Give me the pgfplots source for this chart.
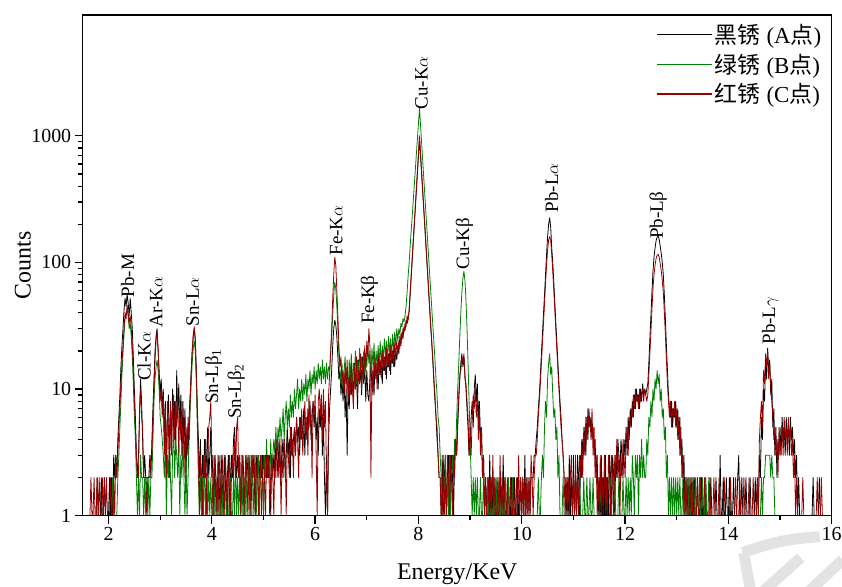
\documentclass[border=0pt]{standalone}
\usepackage{fontspec}
\setmainfont{Liberation Serif}
\newfontfamily\cjk{Noto Sans CJK SC}
\usepackage{pgfplots}
\usepackage{pgfplotstable}
\pgfplotsset{compat=1.18}

\definecolor{rustblack}{RGB}{0,0,0}
\definecolor{rustgreen}{RGB}{0,128,0}
\definecolor{rustred}{RGB}{150,0,0}

\tikzset{lbl/.style={rotate=90, anchor=west, inner sep=1bp, font=\fontsize{19}{22}\selectfont}}

% XRF spectra: energy (keV), counts at point A (black rust), B (green rust), C (red rust)
\pgfplotstableread{
E A B C
1.60 1 1 1
1.62 1 1 1
1.64 1 1 1
1.66 1 1 2
1.68 1 1 1
1.70 1 1 1
1.72 1 1 2
1.74 1 1 1
1.76 1 1 1
1.78 2 1 2
1.80 1 1 1
1.82 1 1 2
1.84 1 1 1
1.86 2 1 1
1.88 1 1 2
1.90 1 1 1
1.92 2 1 2
1.94 1 1 1
1.96 1 1 2
1.98 1 1 1
2.00 1 1 1
2.02 2 1 1
2.04 1 1 2
2.06 2 1 1
2.08 1 2 1
2.10 3 1 2
2.12 2 1 1
2.14 3 1 3
2.16 2 1 2
2.18 4 2 3
2.20 6 3 5
2.22 9 5 7
2.24 15 8 11
2.26 22 13 16
2.28 30 19 22
2.30 42 27 30
2.32 52 36 40
2.34 45 40 36
2.36 56 42 46
2.38 48 38 40
2.40 38 30 33
2.42 52 33 38
2.44 40 26 30
2.46 30 18 22
2.48 18 11 14
2.50 10 6 8
2.52 6 4 5
2.54 3 2 3
2.56 2 1 2
2.58 3 2 2
2.60 6 1 7
2.62 12 3 10
2.64 8 2 6
2.66 4 2 5
2.68 2 1 2
2.70 3 2 2
2.72 2 1 2
2.74 2 2 1
2.76 2 1 2
2.78 2 2 2
2.80 3 1 2
2.82 2 2 3
2.84 4 2 3
2.86 7 4 6
2.88 12 8 10
2.90 20 12 17
2.92 26 15 24
2.94 30 17 28
2.96 20 14 21
2.98 14 10 12
3.00 9 6 8
3.02 12 5 10
3.04 7 4 6
3.06 10 3 9
3.08 4 2 3
3.10 8 4 7
3.12 2 1 2
3.14 6 3 8
3.16 9 2 5
3.18 3 4 2
3.20 7 2 8
3.22 4 1 3
3.24 10 3 7
3.26 5 5 9
3.28 8 2 4
3.30 3 4 8
3.32 14 3 5
3.34 6 2 9
3.36 11 4 3
3.38 5 1 7
3.40 9 3 4
3.42 3 2 8
3.44 8 4 3
3.46 4 2 6
3.48 7 1 2
3.50 2 3 5
3.52 5 1 3
3.54 3 2 6
3.56 6 4 4
3.58 9 7 8
3.60 14 11 13
3.62 20 16 20
3.64 26 21 27
3.66 30 24 31
3.68 24 20 25
3.70 14 11 13
3.72 7 5 6
3.74 4 2 3
3.76 2 1 1
3.78 4 2 3
3.80 1 1 2
3.82 3 2 1
3.84 2 1 3
3.86 4 3 2
3.88 2 1 4
3.90 3 2 1
3.92 5 1 3
3.94 2 2 5
3.96 3 1 6
3.98 5 2 8
4.00 2 1 3
4.02 3 1 1
4.04 1 2 2
4.06 3 1 3
4.08 2 1 1
4.10 1 1 2
4.12 3 2 1
4.14 2 1 3
4.16 1 1 2
4.18 3 2 1
4.20 2 1 3
4.22 1 2 2
4.24 3 1 1
4.26 2 1 3
4.28 1 1 2
4.30 2 2 1
4.32 3 1 2
4.34 1 1 3
4.36 2 2 1
4.38 3 1 2
4.40 2 1 3
4.42 4 2 2
4.44 5 1 4
4.46 3 3 2
4.48 2 1 5
4.50 3 2 6
4.52 2 1 2
4.54 3 2 3
4.56 1 1 1
4.58 2 3 2
4.60 3 1 3
4.62 2 2 1
4.64 1 1 2
4.66 3 3 3
4.68 2 1 2
4.70 3 2 1
4.72 2 3 3
4.74 1 1 2
4.76 3 2 1
4.78 2 3 3
4.80 3 1 2
4.82 2 2 3
4.84 1 3 1
4.86 3 1 2
4.88 2 2 3
4.90 3 3 1
4.92 2 1 2
4.94 3 2 3
4.96 2 3 1
4.98 3 2 2
5.00 1 1 3
5.02 2 3 2
5.04 3 2 1
5.06 2 4 3
5.08 3 2 2
5.10 2 3 3
5.12 3 2 1
5.14 1 4 2
5.16 3 2 3
5.18 2 3 2
5.20 3 4 1
5.22 2 3 3
5.24 4 5 2
5.26 3 3 4
5.28 2 5 3
5.30 4 4 2
5.32 3 6 4
5.34 2 4 1
5.36 4 5 3
5.38 3 7 2
5.40 4 4 4
5.42 2 6 3
5.44 3 8 1
5.46 5 5 4
5.48 3 7 3
5.50 4 5 2
5.52 2 9 5
5.54 5 6 3
5.56 3 8 4
5.58 4 6 2
5.60 5 10 5
5.62 3 7 3
5.64 6 9 6
5.66 4 12 4
5.68 5 7 2
5.70 3 10 6
5.72 6 8 4
5.74 4 12 7
5.76 5 8 3
5.78 7 11 5
5.80 3 9 8
5.82 6 13 4
5.84 4 8 6
5.86 7 12 3
5.88 5 10 9
5.90 8 14 5
5.92 4 9 7
5.94 6 13 2
5.96 8 11 8
5.98 5 15 6
6.00 7 10 9
6.02 4 14 3
6.04 6 11 1
6.06 3 16 8
6.08 7 12 10
6.10 5 15 6
6.12 8 11 9
6.14 3 17 4
6.16 6 12 10
6.18 2 15 5
6.20 1 11 8
6.22 3 16 2
6.24 1 12 1
6.26 4 15 9
6.28 7 14 13
6.30 10 20 20
6.32 14 26 30
6.34 22 38 52
6.36 30 55 80
6.38 35 70 110
6.40 32 62 95
6.42 26 45 60
6.44 18 30 38
6.46 12 18 22
6.48 14 14 15
6.50 9 11 18
6.52 12 16 11
6.54 8 10 14
6.56 13 14 9
6.58 6 18 15
6.60 10 11 10
6.62 3 15 17
6.64 12 9 8
6.66 7 17 13
6.68 15 12 9
6.70 9 19 16
6.72 13 10 11
6.74 8 16 7
6.76 16 13 15
6.78 10 20 10
6.80 14 11 18
6.82 7 17 9
6.84 17 12 14
6.86 11 21 11
6.88 15 14 19
6.90 9 18 10
6.92 18 12 16
6.94 11 20 12
6.96 16 13 22
6.98 8 19 14
7.00 14 15 24
7.02 9 22 18
7.04 8 16 30
7.06 12 20 22
7.08 16 13 2
7.10 10 21 15
7.12 14 15 9
7.14 9 23 18
7.16 17 14 12
7.18 12 20 16
7.20 16 15 10
7.22 10 22 19
7.24 18 16 13
7.26 13 24 17
7.28 17 15 12
7.30 11 22 20
7.32 19 17 14
7.34 14 25 18
7.36 18 18 13
7.38 12 24 21
7.40 20 17 15
7.42 15 26 19
7.44 19 19 14
7.46 13 25 22
7.48 21 18 16
7.50 16 27 20
7.52 22 20 15
7.54 15 28 23
7.56 20 22 18
7.58 17 30 24
7.60 22 24 19
7.62 19 30 24
7.64 26 27 21
7.66 22 33 27
7.68 28 31 25
7.70 25 36 30
7.72 31 34 28
7.74 29 38 33
7.76 35 45 31
7.78 33 58 38
7.80 36 78 35
7.82 41 100 43
7.84 56 135 59
7.86 77 180 81
7.88 105 235 111
7.90 145 310 152
7.92 198 410 208
7.94 270 545 285
7.96 370 720 390
7.98 505 950 533
8.00 690 1250 730
8.02 950 1650 1000
8.04 690 1215 730
8.06 505 895 533
8.08 370 660 390
8.10 270 485 285
8.12 198 357 208
8.14 145 263 152
8.16 105 194 111
8.18 77 143 81
8.20 56 105 59
8.22 41 77 43
8.24 30 57 31
8.26 22 42 23
8.28 16 31 17
8.30 11 23 12
8.32 8 17 9
8.34 6 12 6
8.36 4 9 5
8.38 3 6 3
8.40 2 5 2
8.42 2 3 2
8.44 1 2 1
8.46 3 1 1
8.48 1 2 3
8.50 2 1 1
8.52 3 3 2
8.54 1 1 1
8.56 2 2 3
8.58 3 1 2
8.60 1 3 1
8.62 2 1 3
8.64 3 2 2
8.66 2 3 1
8.68 1 2 3
8.70 3 4 2
8.72 4 3 4
8.74 3 6 3
8.76 5 10 6
8.78 8 16 9
8.80 12 26 13
8.82 16 40 14
8.84 19 58 18
8.86 15 75 16
8.88 18 85 19
8.90 13 72 12
8.92 10 50 11
8.94 7 30 8
8.96 5 16 6
8.98 3 8 3
9.00 4 4 5
9.02 6 2 3
9.04 8 1 6
9.06 5 2 9
9.08 10 1 7
9.10 13 2 10
9.12 8 1 6
9.14 11 2 9
9.16 6 1 4
9.18 8 1 7
9.20 4 2 3
9.22 5 1 5
9.24 2 1 2
9.26 3 2 3
9.28 1 1 1
9.30 2 1 2
9.32 1 1 1
9.34 2 2 1
9.36 1 1 2
9.38 3 1 1
9.40 1 2 2
9.42 2 1 1
9.44 1 1 3
9.46 2 2 1
9.48 1 1 2
9.50 1 2 1
9.52 2 1 1
9.54 1 1 2
9.56 1 2 1
9.58 2 1 3
9.60 1 1 1
9.62 1 2 2
9.64 3 1 1
9.66 1 1 2
9.68 2 2 1
9.70 1 1 1
9.72 1 1 2
9.74 2 2 1
9.76 1 1 1
9.78 1 1 2
9.80 2 1 1
9.82 1 2 1
9.84 1 1 2
9.86 2 1 1
9.88 1 1 1
9.90 1 1 2
9.92 2 1 1
9.94 1 1 3
9.96 1 1 1
9.98 2 1 2
10.00 1 1 1
10.02 2 1 2
10.04 1 1 1
10.06 3 1 2
10.08 1 1 1
10.10 2 1 2
10.12 1 1 1
10.14 2 1 2
10.16 1 1 1
10.18 2 1 3
10.20 2 1 2
10.22 2 1 1
10.24 3 1 2
10.26 3 1 3
10.28 4 1 3
10.30 5 1 4
10.32 7 2 6
10.34 9 1 8
10.36 13 1 11
10.38 19 2 16
10.40 27 3 23
10.42 39 2 33
10.44 55 5 47
10.46 80 8 68
10.48 115 6 95
10.50 160 12 125
10.52 200 16 150
10.54 225 19 160
10.56 190 13 150
10.58 130 15 115
10.60 100 9 85
10.62 70 6 60
10.64 48 7 42
10.66 33 4 29
10.68 23 5 20
10.70 16 2 14
10.72 11 3 10
10.74 8 1 7
10.76 6 1 5
10.78 4 1 4
10.80 3 2 3
10.82 2 1 2
10.84 2 1 1
10.86 1 1 2
10.88 2 1 1
10.90 1 1 2
10.92 3 1 1
10.94 1 1 2
10.96 2 1 3
10.98 1 1 1
11.00 3 1 2
11.02 1 1 1
11.04 2 2 3
11.06 1 1 1
11.08 3 1 2
11.10 2 1 1
11.12 1 2 3
11.14 3 1 2
11.16 2 1 4
11.18 4 1 2
11.20 3 2 5
11.22 5 1 3
11.24 3 1 6
11.26 6 2 4
11.28 4 1 7
11.30 7 1 5
11.32 5 2 6
11.34 6 1 4
11.36 4 1 7
11.38 5 2 3
11.40 3 1 5
11.42 4 1 2
11.44 2 1 3
11.46 3 1 1
11.48 1 1 2
11.50 2 1 1
11.52 1 2 3
11.54 3 1 1
11.56 1 1 2
11.58 2 1 1
11.60 1 1 3
11.62 3 1 1
11.64 1 2 2
11.66 2 1 1
11.68 1 1 3
11.70 3 1 2
11.72 2 2 1
11.74 1 1 3
11.76 3 1 2
11.78 2 1 1
11.80 1 2 3
11.82 3 1 2
11.84 2 1 4
11.86 4 1 2
11.88 3 2 3
11.90 2 1 1
11.92 4 1 3
11.94 3 1 2
11.96 2 2 4
11.98 4 1 3
12.00 3 1 2
12.02 5 2 4
12.04 3 1 5
12.06 6 2 3
12.08 4 1 6
12.10 7 2 5
12.12 5 1 7
12.14 8 3 6
12.16 6 2 9
12.18 9 1 7
12.20 7 3 10
12.22 10 2 8
12.24 8 3 9
12.26 9 1 7
12.28 7 3 10
12.30 10 2 8
12.32 8 4 9
12.34 11 2 10
12.36 9 3 8
12.38 10 2 10
12.40 9 2 9
12.42 10 4 8
12.44 11 3 9
12.46 16 6 13
12.48 25 5 19
12.50 38 8 28
12.52 58 6 42
12.54 85 10 62
12.56 110 8 80
12.58 130 12 95
12.60 148 10 107
12.62 158 14 114
12.64 162 11 116
12.66 152 13 110
12.68 135 8 98
12.70 118 10 86
12.72 100 6 72
12.74 80 7 58
12.76 55 4 40
12.78 36 5 27
12.80 22 2 17
12.82 14 3 11
12.84 9 1 8
12.86 7 2 6
12.88 6 1 8
12.90 8 2 5
12.92 5 1 7
12.94 7 2 6
12.96 6 1 8
12.98 8 2 5
13.00 5 1 7
13.02 7 2 4
13.04 4 1 6
13.06 6 2 3
13.08 3 1 5
13.10 4 1 2
13.12 2 2 3
13.14 3 1 1
13.16 1 1 2
13.18 2 2 1
13.20 1 1 2
13.22 2 1 1
13.24 1 2 1
13.26 1 1 2
13.28 2 1 1
13.30 1 2 1
13.32 1 1 2
13.34 2 1 1
13.36 1 2 1
13.38 1 1 1
13.40 2 1 2
13.42 1 1 1
13.44 1 2 1
13.46 1 1 2
13.48 2 1 1
13.50 1 2 1
13.52 1 1 1
13.54 1 1 2
13.56 2 2 1
13.58 1 1 1
13.60 1 1 1
13.62 1 2 1
13.64 1 1 2
13.66 2 1 1
13.68 1 1 1
13.70 1 1 1
13.72 1 1 2
13.74 1 1 1
13.76 2 1 1
13.78 1 1 1
13.80 1 1 1
13.82 1 1 2
13.84 3 1 1
13.86 1 1 1
13.88 1 1 1
13.90 2 1 1
13.92 1 1 2
13.94 1 1 1
13.96 2 1 1
13.98 1 1 1
14.00 1 1 1
14.02 2 1 1
14.04 1 1 2
14.06 1 1 1
14.08 1 1 1
14.10 2 1 1
14.12 1 1 1
14.14 1 1 2
14.16 1 1 1
14.18 2 1 1
14.20 3 1 1
14.22 1 1 2
14.24 1 1 1
14.26 2 1 1
14.28 1 1 1
14.30 1 1 2
14.32 1 1 1
14.34 2 1 1
14.36 1 1 1
14.38 1 1 1
14.40 1 1 2
14.42 2 1 1
14.44 1 1 1
14.46 1 1 1
14.48 1 1 2
14.50 1 1 1
14.52 2 1 1
14.54 1 1 1
14.56 2 1 2
14.58 1 1 1
14.60 3 1 4
14.62 2 1 6
14.64 6 2 8
14.66 4 1 5
14.68 10 2 14
14.70 8 2 11
14.72 16 3 19
14.74 12 3 15
14.76 21 3 20
14.78 14 3 12
14.80 17 3 16
14.82 9 2 10
14.84 12 3 8
14.86 5 2 6
14.88 7 2 4
14.90 3 1 5
14.92 5 1 3
14.94 2 1 4
14.96 4 1 2
14.98 3 1 5
15.00 5 1 3
15.02 3 1 4
15.04 6 1 5
15.06 4 1 3
15.08 5 1 6
15.10 3 1 4
15.12 6 1 5
15.14 4 1 3
15.16 5 1 6
15.18 3 1 4
15.20 6 1 5
15.22 4 1 3
15.24 5 1 4
15.26 3 1 2
15.28 4 1 3
15.30 2 1 1
15.32 3 1 2
15.34 1 1 1
15.36 2 1 1
15.38 1 1 1
15.40 1 1 1
15.42 1 1 1
15.44 1 1 2
15.46 1 1 1
15.48 1 1 1
15.50 1 1 1
15.52 1 1 1
15.54 1 1 1
15.56 1 1 1
15.58 1 1 1
15.60 1 1 1
15.62 1 1 1
15.64 2 1 1
15.66 1 1 1
15.68 1 1 1
15.70 1 1 1
15.72 1 1 2
15.74 1 1 1
15.76 2 1 1
15.78 1 1 1
15.80 1 1 2
15.82 1 1 1
15.84 1 1 1
15.86 1 1 1
15.88 1 1 1
15.90 1 1 1
15.92 1 1 1
15.94 1 1 1
15.96 1 1 1
15.98 1 1 1
16.00 1 1 1
}\spectra

\begin{document}
\begin{tikzpicture}
\begin{axis}[
  scale only axis,
  width=749bp, height=500.7bp,
  xmin=1.5, xmax=16,
  ymode=log, ymin=1, ymax=9000,
  axis on top,
  axis line style={line width=1.3bp},
  xtick={2,4,...,16}, minor xtick={3,5,...,15},
  ytick={1,10,100,1000}, yticklabels={1,10,100,1000},
  xtick pos=left, ytick pos=left,
  tick align=outside,
  major tick length=8bp, minor tick length=4.5bp,
  every tick/.style={line width=1.3bp, black},
  tick label style={font=\fontsize{20}{23}\selectfont},
  /pgf/number format/assume math mode=true,
  xlabel={Energy/KeV}, ylabel={Counts},
  label style={font=\fontsize{24}{28}\selectfont},
  xlabel style={at={(axis description cs:0.5,0)}, anchor=center, yshift=-58bp},
  ylabel style={at={(axis description cs:-0.0801,0.5)}, anchor=center},
  legend cell align=left,
  legend style={draw=none, fill=none, anchor=north east,
    at={(rel axis cs:0.989,0.986)},
    font=\fontsize{23}{26}\selectfont, row sep=5bp,
    inner sep=0bp,
    /tikz/every even column/.append style={column sep=3bp}},
  legend image code/.code={\draw[#1, line width=1.4bp] (0bp,0bp) -- (55bp,0bp);},
  every axis plot/.append style={line width=0.8bp, line join=round},
]
\addplot[rustblack] table[x=E, y=A] {\spectra};
\addplot[rustgreen] table[x=E, y=B] {\spectra};
\addplot[rustred]   table[x=E, y=C] {\spectra};
\legend{{\cjk 黑锈} (A{\cjk 点}), {\cjk 绿锈} (B{\cjk 点}), {\cjk 红锈} (C{\cjk 点})}

% peak assignments
\node[lbl] at (axis cs:2.37,52)   {Pb-M};
\node[lbl] at (axis cs:2.69,11.4) {Cl-K$\alpha$};
\node[lbl] at (axis cs:2.92,30)   {Ar-K$\alpha$};
\node[lbl] at (axis cs:3.63,30.7) {Sn-L$\alpha$};
\node[lbl] at (axis cs:4.03,7.5)  {Sn-Lβ\textsubscript{1}};
\node[lbl] at (axis cs:4.47,5.7)  {Sn-Lβ\textsubscript{2}};
\node[lbl] at (axis cs:6.41,111)  {Fe-K$\alpha$};
\node[lbl] at (axis cs:7.05,32)   {Fe-Kβ};
\node[lbl] at (axis cs:8.06,1590) {Cu-K$\alpha$};
\node[lbl] at (axis cs:8.89,86)   {Cu-Kβ};
\node[lbl] at (axis cs:10.58,244) {Pb-L$\alpha$};
\node[lbl] at (axis cs:12.64,150) {Pb-Lβ};
\node[lbl] at (axis cs:14.81,22)  {Pb-L$\gamma$};
\end{axis}

% faint mark in the lower right corner
\begin{scope}[shift={(current axis.south west)}, black!11, line width=11bp]
  \draw (660bp,-37bp) to[bend left=8] (737bp,-21bp);
  \draw (661bp,-37bp) -- (668bp,-76bp);
  \draw (680bp,-76bp) -- (718bp,-42bp);
  \draw (726bp,-76bp) -- (760bp,-44bp);
\end{scope}

\pgfresetboundingbox
\path[use as bounding box] (current axis.south west) ++(-82.7bp,-71.3bp) rectangle ++(842bp,587bp);
\end{tikzpicture}
\end{document}
